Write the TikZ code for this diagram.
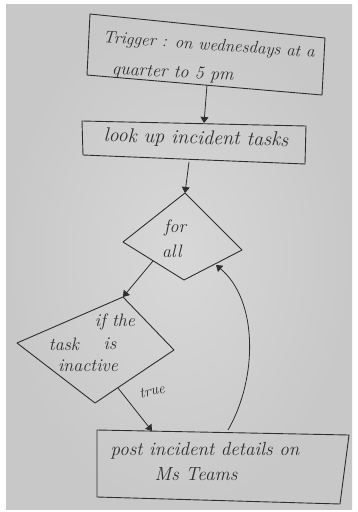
\documentclass[tikz,border=0pt]{standalone}
\usetikzlibrary{arrows.meta}
\definecolor{paper}{HTML}{C8C8C8}
\definecolor{paperlight}{HTML}{D8D8D8}
\definecolor{ink}{HTML}{2E2E2E}
\tikzset{
  outline/.style={draw=ink, line width=0.9pt, line join=round},
  flow/.style={draw=ink, line width=0.8pt, -{Triangle[length=6pt,width=8pt]}},
  hand/.style={text=ink, font=\fontsize{18}{21}\selectfont\itshape, inner sep=0pt, align=center},
  bighand/.style={hand, font=\fontsize{20}{23}\selectfont\itshape},
}
\begin{document}
\begin{tikzpicture}[x=1pt,y=-1pt]
\useasboundingbox (0,0) rectangle (357,512);
% sheet of paper on a white ground
\fill[white] (0,0) rectangle (357,512);
\shade[inner color=paperlight, outer color=paper] (6,4) rectangle (352,509);

% trigger box
\coordinate (t1) at (90,14);
\coordinate (t2) at (325,38);
\coordinate (t3) at (322,95);
\coordinate (t4) at (87,75);
\draw[outline] (t1) -- (t2) -- (t3) -- (t4) -- cycle;
\node[hand, font=\fontsize{17}{20}\selectfont\itshape, rotate=-4] (trigA) at (209,46) {Trigger : on wednesdays at a};
\node[hand, rotate=-3, anchor=west] (trigB) at (112,70) {quarter to 5 pm};
\coordinate (trigOut) at (207,85);

% lookup box
\coordinate (l1) at (82,121);
\coordinate (l2) at (306,126);
\coordinate (l3) at (305,164);
\coordinate (l4) at (83,155);
\draw[outline] (l1) -- (l2) -- (l3) -- (l4) -- cycle;
\node[bighand, rotate=-1.5] (look) at (196,139) {look up incident tasks};
\coordinate (lookIn) at (204,123);
\coordinate (lookOut) at (189,162);

% loop diamond
\coordinate (f1) at (185,193);
\coordinate (f2) at (242,250);
\coordinate (f3) at (184,280);
\coordinate (f4) at (123,242);
\draw[outline] (f1) -- (f2) -- (f3) -- (f4) -- cycle;
\node[hand, anchor=west] (forA) at (164,228) {for};
\node[hand, anchor=west] (forB) at (162,251) {all};
\coordinate (forOut) at (153,261);
\coordinate (forBack) at (216,265);

% condition diamond
\coordinate (c1) at (123,297);
\coordinate (c2) at (174,350);
\coordinate (c3) at (95,403);
\coordinate (c4) at (17,343);
\draw[outline] (c1) -- (c2) -- (c3) -- (c4) -- cycle;
\node[hand] (ifA) at (115,322) {if the};
\node[hand] (ifB) at (64,344) {task};
\node[hand] (ifC) at (110,344) {is};
\node[hand] (ifD) at (88,366) {inactive};
\coordinate (condOut) at (118,388);

% post box
\coordinate (p1) at (97,430);
\coordinate (p2) at (349,435);
\coordinate (p3) at (340,504);
\coordinate (p4) at (97,497);
\draw[outline] (p1) -- (p2) -- (p3) -- (p4) -- cycle;
\node[hand, font=\fontsize{19}{22}\selectfont\itshape] (postA) at (205,451) {post incident details on};
\node[hand, font=\fontsize{19}{22}\selectfont\itshape] (postB) at (196,474) {Ms Teams};
\coordinate (postIn) at (152,431);
\coordinate (postOut) at (228,430);

% connectors
\draw[flow] (trigOut) -- (lookIn);
\draw[flow] (lookOut) -- (f1);
\draw[flow] (forOut) -- (c1);
\draw[flow] (condOut) -- (postIn);
\node[hand, font=\fontsize{15}{17}\selectfont\itshape, rotate=14] (trueLbl) at (152,391) {true};
\draw[flow] (postOut) .. controls (258,378) and (258,300) .. (forBack);
\end{tikzpicture}
\end{document}
